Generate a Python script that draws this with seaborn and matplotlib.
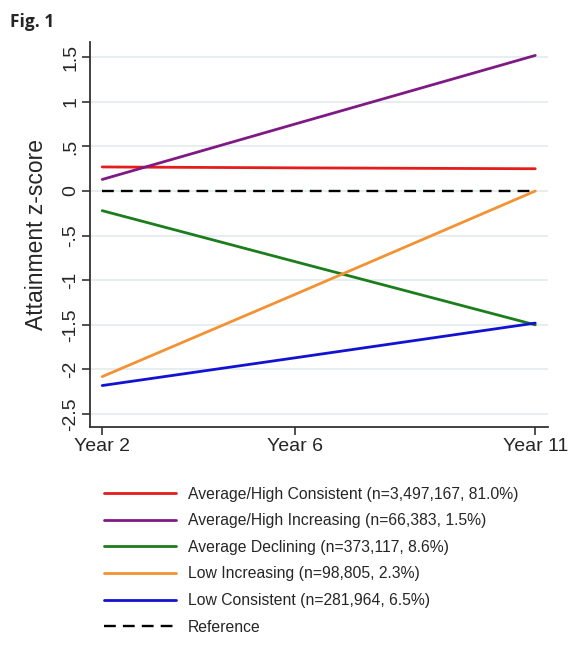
import pandas as pd
import matplotlib.pyplot as plt
import seaborn as sns

# Dados
years = [2, 6, 11]
year_labels = ["Year 2", "Year 6", "Year 11"]
groups = [
    "Average/High Consistent (n=3,497,167, 81.0%)",
    "Average/High Increasing (n=66,383, 1.5%)",
    "Average Declining (n=373,117, 8.6%)",
    "Low Increasing (n=98,805, 2.3%)",
    "Low Consistent (n=281,964, 6.5%)",
]
avg_high_consistent = [0.27, 0.26, 0.25]
avg_high_increasing = [0.13, 0.75, 1.52]
avg_declining = [-0.22, -0.79, -1.50]
low_increasing = [-2.08, -1.16, 0.00]
low_consistent = [-2.18, -1.87, -1.48]
reference = [0.0, 0.0, 0.0]
colors = ["#e41c1c", "#7f1a84", "#1b7d1b", "#f39232", "#1212d2"]
yticks = [1.5, 1, 0.5, 0, -0.5, -1, -1.5, -2, -2.5]
ytick_labels = ["1.5", "1", ".5", "0", "-.5", "-1", "-1.5", "-2", "-2.5"]

series = [avg_high_consistent, avg_high_increasing, avg_declining,
          low_increasing, low_consistent]
rows = []
for g, vals in zip(groups, series):
    for yr, v in zip(years, vals):
        rows.append({"Year": yr, "z": v, "Grupo": g})
df = pd.DataFrame(rows)
df_ref = pd.DataFrame({"Year": years, "z": reference})

sns.set_theme(style="white")
plt.rcParams["font.family"] = ["Liberation Sans", "DejaVu Sans"]

fig = plt.figure(figsize=(5.82, 6.47), dpi=100)
ax = fig.add_axes([0.155, 0.340, 0.787, 0.595])

for y in yticks:
    ax.axhline(y, color="#e6eef0", lw=1.4, zorder=0)

sns.lineplot(data=df_ref, x="Year", y="z", ax=ax, color="black",
             lw=1.7, dashes=False, linestyle=(0, (5, 3)), label="Reference",
             legend=False)
sns.lineplot(data=df, x="Year", y="z", hue="Grupo", hue_order=groups,
             palette=colors, lw=2.0, ax=ax, legend=False)

ax.set_xlim(1.75, 11.27)
ax.set_ylim(-2.645, 1.67)
ax.set_xticks(years)
ax.set_xticklabels(year_labels, fontsize=14)
ax.set_yticks(yticks)
ax.set_yticklabels(ytick_labels, fontsize=14, rotation=90, va="center")
ax.set_xlabel("")
ax.set_ylabel("Attainment z-score", fontsize=16.5, labelpad=10)
ax.tick_params(axis="both", direction="out", length=6, width=1.2,
               color="#333333", left=True, bottom=True, pad=2)

for s in ["top", "right"]:
    ax.spines[s].set_visible(False)
for s in ["left", "bottom"]:
    ax.spines[s].set_color("#333333")
    ax.spines[s].set_linewidth(1.3)

fig.text(0.017, 0.966, "Fig. 1", fontsize=12.5, fontweight="bold",
         family=["Open Sans", "DejaVu Sans"], va="center", ha="left")

# Legenda abaixo do gráfico
handles = [plt.Line2D([], [], color=c, lw=2.0) for c in colors]
handles.append(plt.Line2D([], [], color="black", lw=1.7, linestyle=(0, (5, 3))))
labels = groups + ["Reference"]
fig.legend(handles, labels, loc="upper left", bbox_to_anchor=(0.178, 0.248),
           frameon=False, fontsize=11.3, borderpad=0, handlelength=4.6,
           handletextpad=0.75, labelspacing=0.74, borderaxespad=0)

plt.savefig("out.png", dpi=100)
